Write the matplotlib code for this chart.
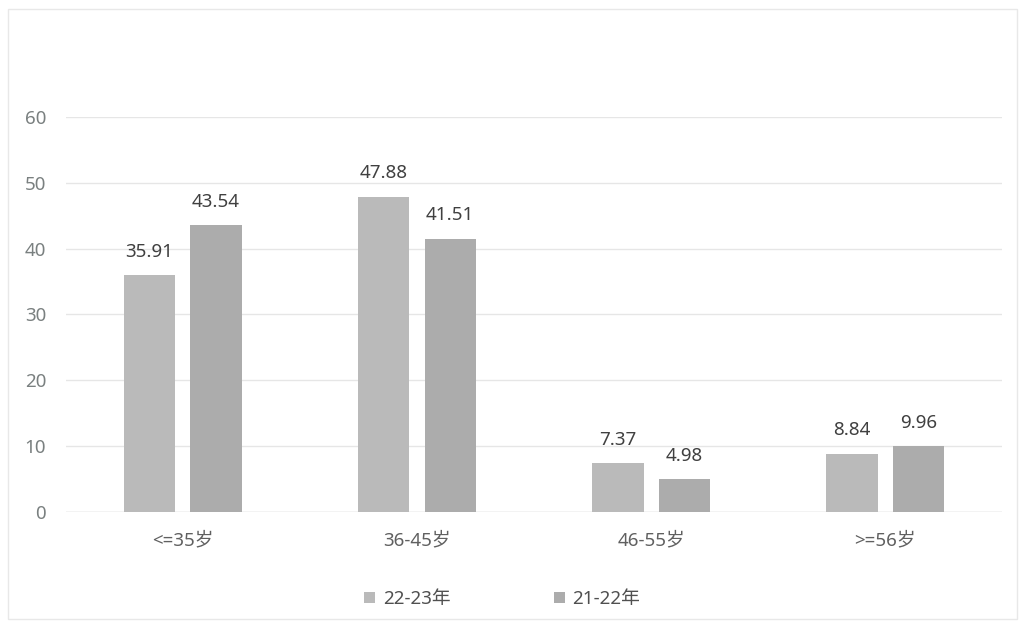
import matplotlib.pyplot as plt
import numpy as np

plt.rcParams['font.family'] = ['Noto Sans', 'Noto Sans CJK SC', 'DejaVu Sans']

# 数据
categories = ['<=35岁', '36-45岁', '46-55岁', '>=56岁']
series_names = ['22-23年', '21-22年']
vals_2223 = [35.91, 47.88, 7.37, 8.84]
vals_2122 = [43.54, 41.51, 4.98, 9.96]
yticks = [0, 10, 20, 30, 40, 50, 60]

colors = ['#bababa', '#acacac']

fig = plt.figure(figsize=(10.25, 6.25), dpi=100)
ax = fig.add_axes([0.064, 0.181, 0.914, 0.632])

x = np.arange(len(categories))
w = 0.22
gap = 0.065
offsets = [-(w + gap) / 2, (w + gap) / 2]

for vals, off, c, name in zip([vals_2223, vals_2122], offsets, colors, series_names):
    bars = ax.bar(x + off, vals, width=w, color=c, label=name, zorder=3)
    for b, v in zip(bars, vals):
        ax.text(b.get_x() + b.get_width() / 2, v + 2.2, f'{v:.2f}',
                ha='center', va='bottom', fontsize=13.5, color='#404040')

ax.set_xlim(-0.5, len(categories) - 0.5)
ax.set_ylim(0, 60)
ax.set_yticks(yticks)
ax.set_xticks(x)
ax.set_xticklabels(categories)
ax.tick_params(axis='both', length=0, labelsize=13.5, labelcolor='#606060')
ax.tick_params(axis='y', labelcolor='#7a8080')
ax.tick_params(axis='x', pad=14)
ax.tick_params(axis='y', pad=14)
ax.grid(axis='y', color='#e6e6e6', linewidth=1, zorder=0)
for s in ax.spines.values():
    s.set_visible(False)
ax.axhline(0, color='#d9d9d9', linewidth=1, zorder=2)

fig.legend(loc='lower center', bbox_to_anchor=(0.49, 0.0), ncol=2, frameon=False,
           fontsize=13.5, handlelength=0.6, handleheight=0.6, handletextpad=0.4,
           columnspacing=5.5, labelcolor='#505050')

# 外框
fig.patches.append(plt.Rectangle((0.008, 0.01), 0.984, 0.975, transform=fig.transFigure,
                                 fill=False, edgecolor='#e8e8e8', linewidth=1))

plt.savefig('out.png', dpi=100)
